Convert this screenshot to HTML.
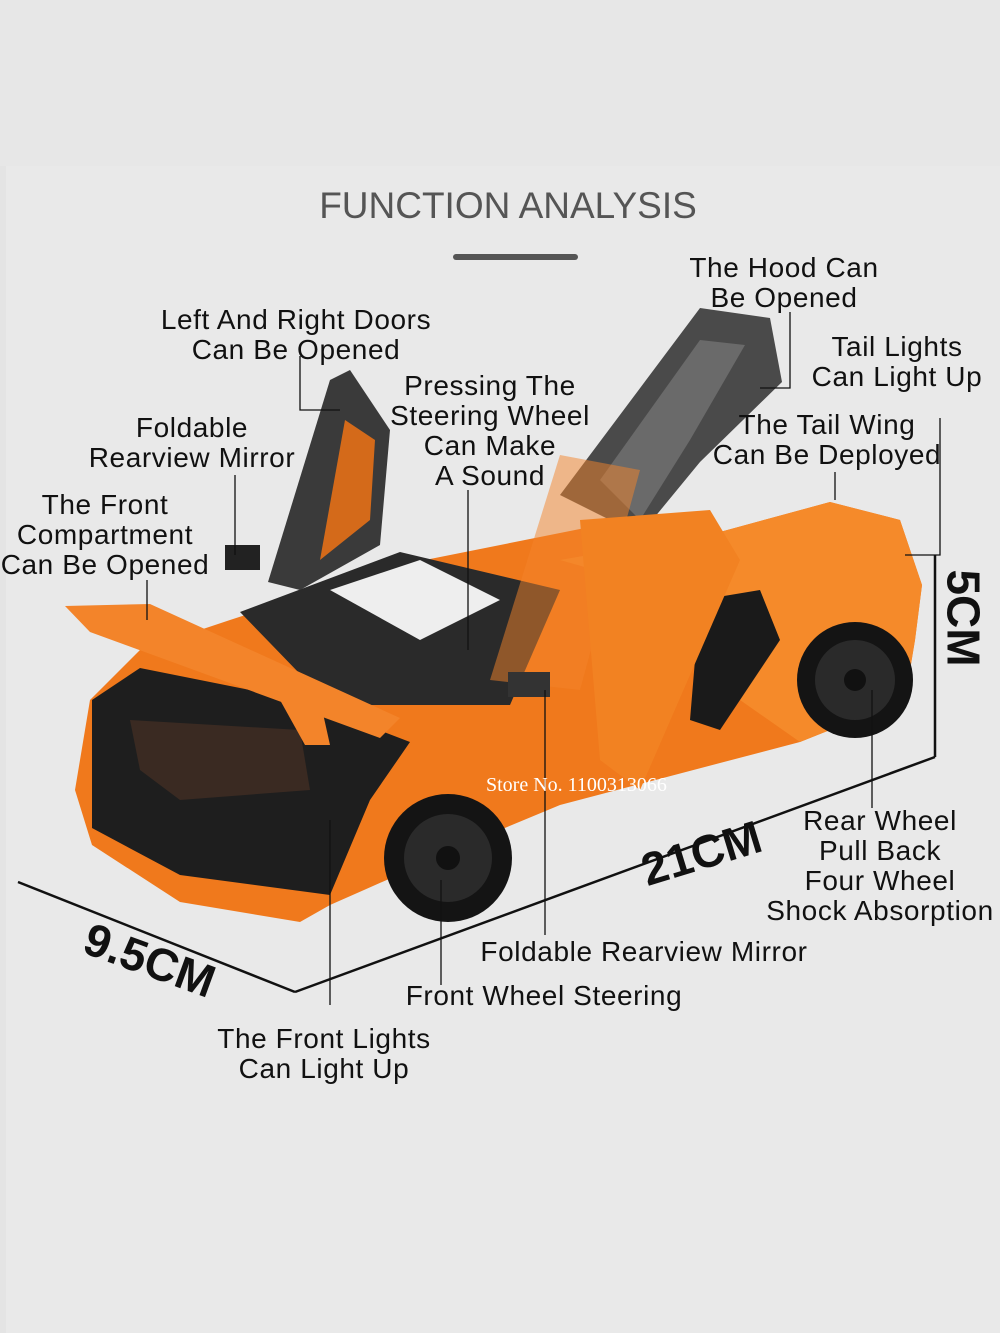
<!DOCTYPE html>
<html><head><meta charset="utf-8"><style>
html,body{margin:0;padding:0}
body{width:1000px;height:1333px;background:#e9e9e9;position:relative;overflow:hidden;font-family:"Liberation Sans",sans-serif}
.t{position:absolute;font-size:28px;letter-spacing:0.6px;color:#111;text-align:center;line-height:30px;white-space:nowrap}
</style></head><body>
<div style="position:absolute;left:0;top:0;width:1000px;height:166px;background:#e7e7e7"></div>
<div style="position:absolute;left:0;top:166px;width:6px;height:1167px;background:#e4e4e4"></div>
<div class="t" style="left:0;width:1016px;top:186px;font-size:37px;line-height:40px;color:#555;letter-spacing:0;font-weight:300">FUNCTION ANALYSIS</div>
<div style="position:absolute;left:453px;top:254px;width:125px;height:6px;background:#555;border-radius:3px"></div>

<svg width="1000" height="1333" style="position:absolute;left:0;top:0">
<g stroke="#111" stroke-width="2.5" fill="none">
<line x1="18" y1="882" x2="295" y2="992"/>
<line x1="295" y1="992" x2="935" y2="757"/>
<line x1="935" y1="555" x2="935" y2="757"/>
</g>
<polygon points="75,790 90,700 140,650 230,620 400,565 600,525 720,532 830,502 900,520 922,585 915,640 905,700 800,742 560,805 500,830 330,905 300,922 180,902 92,845" fill="#f0791c"/>
<polygon points="560,560 720,532 830,502 900,520 922,585 915,640 905,700 800,742 740,700 700,600" fill="#f58a2a"/>
<polygon points="92,700 140,668 300,700 410,742 370,800 330,895 180,875 92,828" fill="#1e1e1e"/>
<polygon points="130,720 300,730 310,790 180,800 140,770" fill="#3a2a22"/>
<polygon points="240,612 400,552 560,590 510,705 330,705" fill="#2a2a2a"/>
<polygon points="330,590 420,560 500,600 420,640" fill="#eee"/>
<polygon points="700,600 760,590 780,640 720,730 690,720" fill="#1a1a1a"/>
<polygon points="65,606 150,604 400,718 380,738 90,632" fill="#f3842a"/>
<polygon points="280,700 320,700 330,745 305,745" fill="#f3842a"/>
<polygon points="330,380 350,370 390,430 380,545 300,590 268,582" fill="#3a3a3a"/>
<polygon points="345,420 375,440 370,520 320,560" fill="#d46a1a"/>
<polygon points="560,495 700,308 770,318 782,382 700,462 640,535" fill="#4a4a4a"/>
<polygon points="600,480 700,340 745,345 690,440 640,520" fill="#6a6a6a"/>
<polygon points="490,680 560,455 640,470 580,690" fill="#f3842a" opacity="0.5"/>
<polygon points="580,520 710,510 740,560 640,790 600,760" fill="#f28222"/>
<circle cx="448" cy="858" r="64" fill="#141414"/><circle cx="448" cy="858" r="44" fill="#2a2a2a"/><circle cx="448" cy="858" r="12" fill="#111"/>
<circle cx="855" cy="680" r="58" fill="#141414"/><circle cx="855" cy="680" r="40" fill="#2a2a2a"/><circle cx="855" cy="680" r="11" fill="#111"/>
<rect x="225" y="545" width="35" height="25" fill="#222"/>
<rect x="508" y="672" width="42" height="25" fill="#333"/>
<g stroke="#111" stroke-width="1.3" fill="none">
<polyline points="300,356 300,410 340,410"/>
<line x1="235" y1="475" x2="235" y2="555"/>
<line x1="147" y1="580" x2="147" y2="620"/>
<line x1="468" y1="490" x2="468" y2="650"/>
<polyline points="790,312 790,388 760,388"/>
<polyline points="940,418 940,555 905,555"/>
<line x1="835" y1="472" x2="835" y2="500"/>
<line x1="872" y1="690" x2="872" y2="808"/>
<line x1="545" y1="690" x2="545" y2="935"/>
<line x1="441" y1="880" x2="441" y2="985"/>
<line x1="330" y1="820" x2="330" y2="1005"/>
</g>
<text x="486" y="791" font-family="Liberation Serif,serif" font-size="20" fill="#fff">Store No. 1100313066</text>
</svg>

<div class="t" style="left:146px;width:300px;top:305px">Left And Right Doors<br>Can Be Opened</div>
<div class="t" style="left:684px;width:200px;top:253px">The Hood Can<br>Be Opened</div>
<div class="t" style="left:797px;width:200px;top:332px">Tail Lights<br>Can Light Up</div>
<div class="t" style="left:380px;width:220px;top:371px">Pressing The<br>Steering Wheel<br>Can Make<br>A Sound</div>
<div class="t" style="left:707px;width:240px;top:410px">The Tail Wing<br>Can Be Deployed</div>
<div class="t" style="left:72px;width:240px;top:413px">Foldable<br>Rearview Mirror</div>
<div class="t" style="left:-10px;width:230px;top:490px">The Front<br>Compartment<br>Can Be Opened</div>
<div class="t" style="left:640px;top:838px;font-size:46px;font-weight:bold;letter-spacing:0;transform:rotate(-17deg)">21CM</div>
<div class="t" style="left:82px;top:945px;font-size:46px;font-weight:bold;letter-spacing:0;transform:rotate(20deg)">9.5CM</div>
<div class="t" style="left:915px;top:603px;font-size:46px;font-weight:bold;letter-spacing:0;transform:rotate(90deg)">5CM</div>
<div class="t" style="left:760px;width:240px;top:806px">Rear Wheel<br>Pull Back<br>Four Wheel<br>Shock Absorption</div>
<div class="t" style="left:466px;width:356px;top:937px">Foldable Rearview Mirror</div>
<div class="t" style="left:394px;width:300px;top:981px">Front Wheel Steering</div>
<div class="t" style="left:204px;width:240px;top:1024px">The Front Lights<br>Can Light Up</div>
</body></html>
